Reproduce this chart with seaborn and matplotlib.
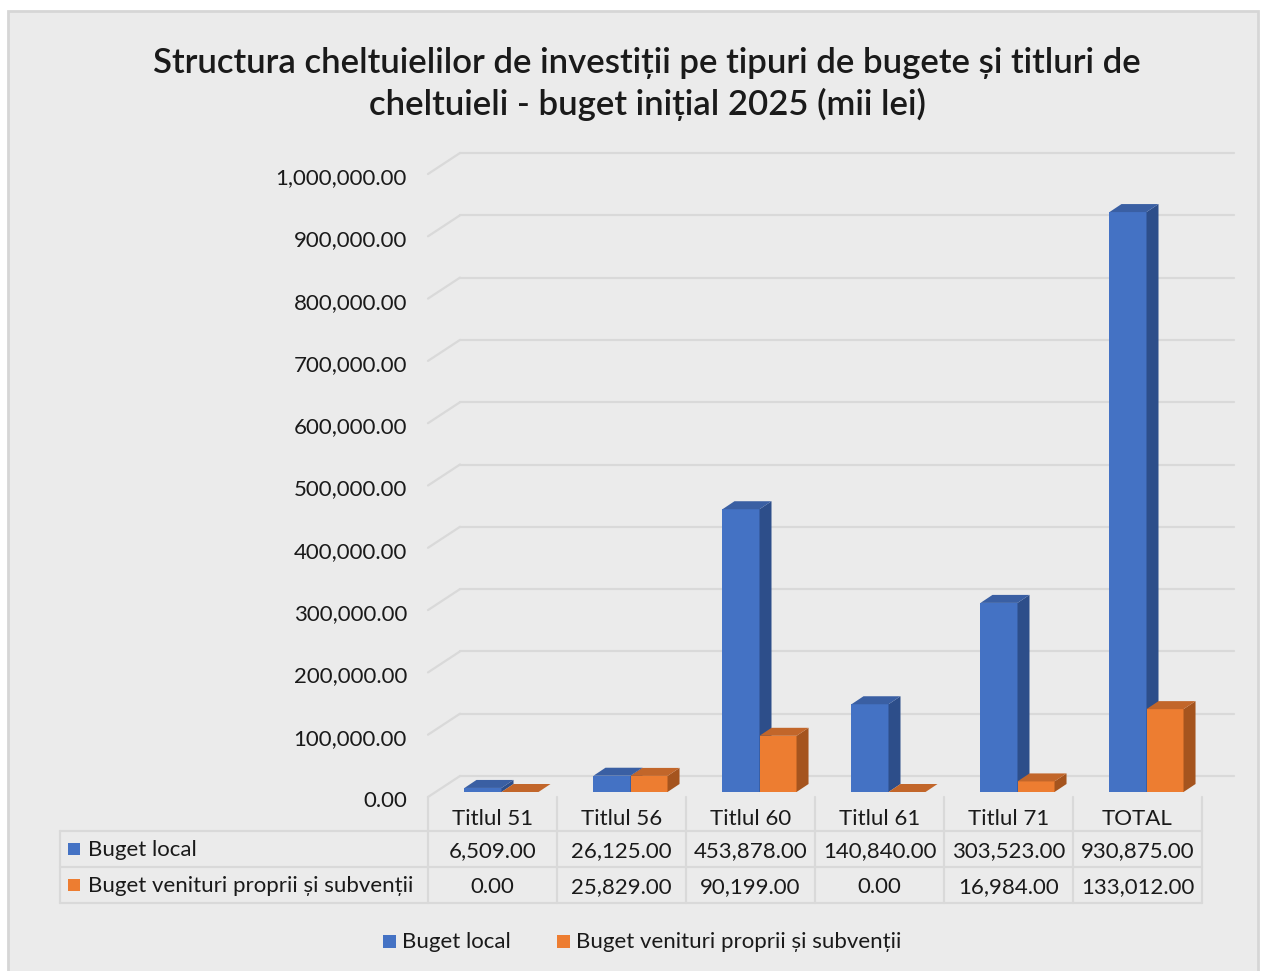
import numpy as np
import pandas as pd
import matplotlib
matplotlib.use("Agg")
import matplotlib.pyplot as plt
import seaborn as sns
from matplotlib.patches import Polygon, Rectangle
from matplotlib.lines import Line2D
from matplotlib.transforms import Affine2D

# ---------------- data ----------------
categories = ["Titlul 51", "Titlul 56", "Titlul 60", "Titlul 61", "Titlul 71", "TOTAL"]
buget_local = [6509.00, 26125.00, 453878.00, 140840.00, 303523.00, 930875.00]
buget_venituri = [0.00, 25829.00, 90199.00, 0.00, 16984.00, 133012.00]
series_names = ["Buget local", "Buget venituri proprii și subvenții"]
y_ticks = [0, 100000, 200000, 300000, 400000, 500000, 600000, 700000, 800000, 900000, 1000000]
title_text = ("Structura cheltuielilor de investiții pe tipuri de bugete și titluri de\n"
              "cheltuieli - buget inițial 2025 (mii lei)")

# ---------------- style ----------------
sns.set_theme(style="white")
plt.rcParams["font.family"] = ["Lato", "DejaVu Sans"]

BLUE, ORANGE = "#4472C4", "#ED7D31"
SIDE = {BLUE: "#2D4E8A", ORANGE: "#A5541E"}
TOP = {BLUE: "#3A5FA3", ORANGE: "#C2662A"}
GRID = "#D9D9D9"
TXT = "#1A1A1A"
FS = 16

W, H = 1263, 971
fig = plt.figure(figsize=(W / 100, H / 100), dpi=100, facecolor="white")
pxT = Affine2D().scale(1 / W, -1 / H).translate(0, 1) + fig.transFigure

# chart area background
fig.patches.append(Rectangle((8, 11), 1250, 970, transform=pxT, facecolor="#EBEBEB",
                             edgecolor="#D6D6D6", linewidth=2, zorder=-5))

# ---------------- plot axes (bar plane) ----------------
X0, Y0, COLW, PLOT_H = 437, 792, 129, 623
ax = fig.add_axes([X0 / W, 1 - Y0 / H, 6 * COLW / W, PLOT_H / H])
ax.set_facecolor("none")
ax.set_zorder(2)

df = pd.DataFrame({
    "cat": categories * 2,
    "serie": [series_names[0]] * len(categories) + [series_names[1]] * len(categories),
    "val": buget_local + buget_venituri,
})
sns.barplot(data=df, x="cat", y="val", hue="serie", order=categories, hue_order=series_names,
            palette=[BLUE, ORANGE], saturation=1, width=0.574, gap=0, errorbar=None,
            legend=False, linewidth=0, ax=ax)
ax.set_xlim(-0.5, len(categories) - 0.5)
ax.set_ylim(0, y_ticks[-1])
ax.axis("off")

ux = 1 / COLW                 # data units per pixel (x)
uy = y_ticks[-1] / PLOT_H     # data units per pixel (y)

# pseudo-3D sides and tops
ddx, ddy = 12 * ux, 8 * uy
for p in list(ax.patches):
    fc = matplotlib.colors.to_hex(p.get_facecolor())
    col = BLUE if fc.lower() == BLUE.lower() else ORANGE
    z = 3 if col == BLUE else 4
    p.set_zorder(z)
    p.set_clip_on(False)
    x0, w, h = p.get_x(), p.get_width(), p.get_height()
    x1 = x0 + w
    side = [(x1, 0), (x1, h), (x1 + ddx, h + ddy), (x1 + ddx, ddy)]
    top = [(x0, h), (x1, h), (x1 + ddx, h + ddy), (x0 + ddx, h + ddy)]
    ax.add_patch(Polygon(side, closed=True, facecolor=SIDE[col], edgecolor="none",
                         zorder=z, clip_on=False))
    ax.add_patch(Polygon(top, closed=True, facecolor=TOP[col], edgecolor="none",
                         zorder=z, clip_on=False))

# gridlines: back wall + diagonal on the left side wall
xl, xr = -0.5, len(categories) - 0.5
fdx, fdy = -9 * ux, -5 * uy     # front plane offset
bdx, bdy = 23 * ux, 16 * uy     # back plane offset
for v in y_ticks:
    ax.add_line(Line2D([xl + bdx, xr + bdx], [v + bdy, v + bdy], color=GRID, lw=1.6,
                       zorder=1, clip_on=False))
    ax.add_line(Line2D([xl + fdx, xl + bdx], [v + fdy, v + bdy], color=GRID, lw=1.6,
                       zorder=1, clip_on=False))
    ax.text(xl - 30 * ux, v + fdy - 4 * uy, f"{v:,.2f}", ha="right", va="center",
            fontsize=FS, color=TXT, zorder=5, clip_on=False)

# ---------------- data table ----------------
TL = 428                 # table front left x (px)
ncol = len(categories)
rows_y = [797, 831, 867, 903]
for yy in rows_y[1:]:
    fig.add_artist(Line2D([60, TL + ncol * COLW], [yy, yy], transform=pxT, color=GRID, lw=1.6))
fig.add_artist(Line2D([60, 60], [rows_y[1], rows_y[3]], transform=pxT, color=GRID, lw=1.6))
for k in range(ncol + 1):
    xx = TL + k * COLW
    fig.add_artist(Line2D([xx, xx], [rows_y[0], rows_y[3]], transform=pxT, color=GRID, lw=1.6))

for i, c in enumerate(categories):
    cx = TL + (i + 0.5) * COLW
    fig.text(cx, 819, c, transform=pxT, ha="center", va="center", fontsize=FS, color=TXT)
    fig.text(cx, 851, f"{buget_local[i]:,.2f}", transform=pxT, ha="center", va="center",
             fontsize=FS, color=TXT)
    fig.text(cx, 887, f"{buget_venituri[i]:,.2f}", transform=pxT, ha="center", va="center",
             fontsize=FS, color=TXT)

for name, col, yy in [(series_names[0], BLUE, 849), (series_names[1], ORANGE, 885)]:
    fig.patches.append(Rectangle((68, yy - 6), 12, 12, transform=pxT, facecolor=col,
                                 edgecolor="none"))
    fig.text(88, yy + 1, name, transform=pxT, ha="left", va="center", fontsize=FS, color=TXT)

# ---------------- bottom legend ----------------
for name, col, xs in [(series_names[0], BLUE, 383), (series_names[1], ORANGE, 557)]:
    fig.patches.append(Rectangle((xs, 935), 13, 13, transform=pxT, facecolor=col,
                                 edgecolor="none"))
    fig.text(xs + 19, 942, name, transform=pxT, ha="left", va="center", fontsize=FS, color=TXT)

# ---------------- title ----------------
lines = title_text.split("\n")
fig.text(647, 63, lines[0], transform=pxT, ha="center", va="center", fontsize=25,
         fontweight="semibold", color=TXT)
fig.text(647, 104, lines[1], transform=pxT, ha="center", va="center", fontsize=25,
         fontweight="semibold", color=TXT)

fig.savefig("out.png", dpi=100, facecolor="white")
